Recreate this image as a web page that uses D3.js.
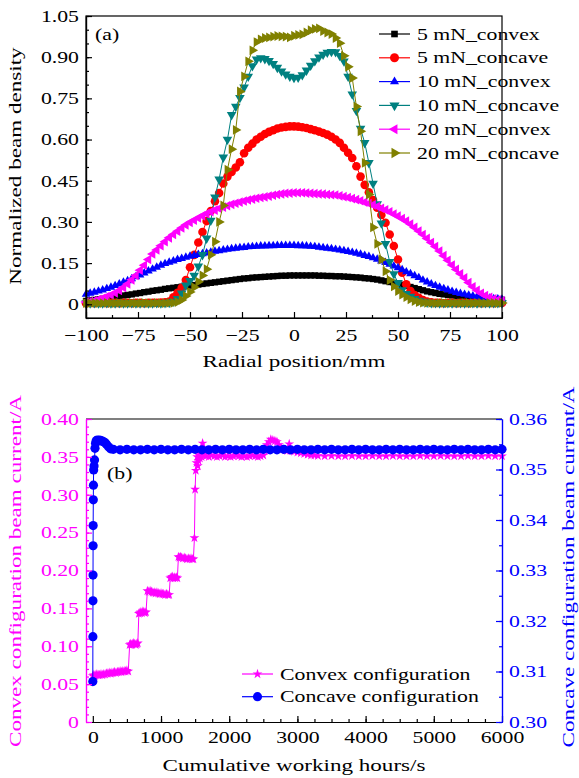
<!DOCTYPE html>
<html>
<head>
<meta charset="utf-8">
<script src="https://cdnjs.cloudflare.com/ajax/libs/d3/7.8.5/d3.min.js"></script>
<style>
  body { margin: 0; background: #fff; }
  svg text { font-family: "Liberation Serif", "Times New Roman", serif; }
</style>
</head>
<body>
<svg id="chart" width="579" height="778"></svg>
<script>
// ---------- panel (a) data : radial profiles, 2 mm grid ----------
const radialPos = d3.range(-100, 101, 2);
const seriesNames = ["5 mN_convex", "5 mN_concave", "10 mN_convex", "10 mN_concave", "20 mN_convex", "20 mN_concave"];

const convex5 = [
  .012,.014,.016,.018,.020,.022,.024,.027,.029,.032,
  .034,.036,.039,.041,.044,.046,.049,.051,.053,.056,
  .058,.060,.062,.064,.066,.068,.070,.072,.074,.076,
  .078,.080,.082,.084,.086,.088,.090,.092,.094,.095,
  .097,.098,.099,.100,.101,.102,.103,.104,.104,.105,
  .105,.105,.105,.105,.105,.105,.104,.104,.103,.103,
  .102,.102,.101,.100,.099,.098,.097,.095,.094,.092,
  .090,.087,.084,.081,.078,.075,.071,.067,.063,.059,
  .055,.051,.047,.044,.041,.038,.036,.034,.032,.030,
  .028,.026,.024,.022,.021,.020,.019,.018,.017,.016,.016];
const concave5 = [
  .004,.005,.004,.005,.005,.004,.005,.005,.004,.005,
  .005,.004,.005,.005,.004,.005,.005,.005,.006,.007,
  .010,.025,.042,.060,.088,.135,.180,.225,.263,.303,
  .340,.375,.405,.440,.465,.482,.498,.517,.550,.570,
  .585,.600,.610,.620,.628,.634,.640,.644,.646,.648,
  .648,.647,.645,.642,.638,.634,.629,.624,.618,.610,
  .600,.588,.570,.552,.533,.503,.465,.435,.408,.380,
  .352,.325,.297,.254,.212,.163,.115,.073,.048,.034,
  .024,.015,.010,.007,.005,.005,.004,.005,.005,.004,
  .005,.005,.004,.005,.005,.004,.005,.005,.004,.005,.005];
const convex10 = [
  .036,.040,.044,.048,.052,.057,.062,.068,.074,.080,
  .086,.093,.100,.107,.114,.121,.128,.135,.142,.148,
  .153,.158,.163,.167,.171,.175,.178,.181,.184,.187,
  .190,.193,.195,.198,.200,.202,.204,.206,.207,.209,
  .210,.211,.212,.212,.213,.213,.214,.214,.214,.214,
  .214,.213,.213,.212,.211,.210,.208,.206,.204,.202,
  .200,.198,.195,.192,.189,.186,.182,.178,.174,.169,
  .164,.158,.152,.146,.139,.133,.126,.118,.111,.104,
  .097,.088,.081,.074,.068,.062,.057,.052,.047,.043,
  .039,.036,.033,.030,.028,.026,.024,.022,.020,.019,.018];
const concave10 = [
  .004,.004,.005,.004,.004,.005,.004,.004,.005,.004,
  .004,.005,.004,.004,.005,.004,.004,.005,.004,.005,.006,
  .010,.020,.040,.069,.086,.105,.138,.180,.240,.305,
  .390,.455,.535,.600,.690,.720,.752,.790,.830,.868,
  .892,.897,.894,.887,.876,.862,.849,.838,.830,.825,
  .826,.835,.852,.870,.886,.900,.910,.917,.920,.919,
  .905,.885,.830,.765,.705,.640,.588,.515,.440,.365,
  .295,.220,.155,.110,.078,.052,.038,.028,.020,.014,
  .010,.007,.005,.005,.004,.005,.005,.004,.005,.005,
  .004,.005,.005,.004,.005,.005,.004,.005,.005,.005];
const convex20 = [
  .008,.010,.013,.017,.022,.028,.034,.041,.050,.061,
  .074,.089,.105,.124,.142,.163,.183,.198,.213,.228,
  .242,.254,.266,.278,.289,.298,.306,.314,.322,.330,
  .337,.343,.349,.354,.359,.364,.368,.372,.376,.380,
  .383,.386,.389,.391,.394,.397,.400,.402,.404,.405,
  .406,.406,.406,.405,.404,.403,.402,.401,.400,.399,
  .398,.395,.392,.389,.385,.381,.377,.372,.367,.362,
  .356,.350,.344,.337,.329,.321,.312,.303,.292,.280,
  .267,.254,.240,.225,.210,.194,.177,.160,.143,.127,
  .111,.096,.079,.064,.051,.040,.032,.025,.020,.016,.013];
const concave20 = [
  .004,.004,.005,.004,.004,.005,.004,.004,.005,.004,.004,
  .005,.004,.004,.005,.004,.004,.005,.004,.004,.005,.005,
  .008,.016,.030,.045,.062,.082,.105,.128,.180,.228,
  .300,.360,.490,.565,.635,.775,.830,.885,.925,.955,
  .965,.970,.972,.975,.977,.976,.975,.972,.978,.981,
  .983,.990,.998,1.003,1.005,.995,.990,.984,.970,.951,
  .905,.865,.824,.720,.630,.515,.400,.280,.220,.163,
  .120,.088,.065,.048,.035,.026,.018,.012,.008,.006,
  .005,.005,.004,.005,.005,.004,.005,.005,.004,.005,
  .005,.004,.005,.005,.004,.005,.005,.004,.005];
const radialSeries = [convex5, concave5, convex10, concave10, convex20, concave20];
const radialTicksX = [-100, -75, -50, -25, 0, 25, 50, 75, 100];
const radialTicksY = [0, 0.15, 0.30, 0.45, 0.60, 0.75, 0.90, 1.05];

// ---------- panel (b) data : beam current vs time ----------
const convexTime = [
  0,15,30,45,60,80,100,120,140,160,180,200,220,240,260,280,300,320,340,360,380,400,420,440,460,480,500,520,
  540,555,570,585,600,615,630,645,660,
  675,690,705,720,735,750,765,780,
  800,820,840,860,880,900,920,940,960,980,1000,1020,1040,1060,1080,1100,1120,
  1135,1150,1165,1180,1195,1210,1225,1240,
  1255,1270,1285,1300,1320,1340,1360,1380,1400,1420,1440,1460,1475,
  1490,1500,1510,1520,1530,1540,1550,1560,1570,1580,1595,1610,1625,1640,
  1660,1700,1740,1780,1820,1860,1900,1940,1980,2020,2060,2100,2140,2180,2220,2260,2300,2340,2380,2420,2460,2500,
  2520,2550,2580,2610,2640,2670,2700,2730,2760,2790,2820,2850,2880,2900,2950,3000,3050,3100,3150,3200,3250,
  3300,3400,3500,3600,3700,3800,3900,4000,4100,4200,4300,4400,4500,4600,4700,4800,4900,5000,5100,5200,5300,5400,5500,5600,5700,5800,5900,6000];
const convexCurrent = [
  .061,.062,.061,.062,.063,.062,.062,.063,.062,.063,.063,.064,.064,.065,.064,.065,.065,.066,.065,.066,.066,.067,.066,.067,.067,.067,.068,.067,
  .102,.103,.102,.103,.104,.103,.102,.103,.104,
  .143,.144,.145,.144,.146,.145,.144,.145,
  .173,.172,.173,.172,.171,.171,.170,.171,.170,.169,.170,.169,.169,.168,.169,.168,.168,
  .190,.191,.192,.190,.191,.190,.191,.190,
  .218,.217,.218,.217,.216,.217,.216,.215,.216,.215,.216,.215,.215,
  .243,.307,.332,.342,.350,.338,.345,.352,.348,.355,.350,.368,.352,.355,
  .351,.350,.352,.351,.350,.351,.352,.350,.351,.350,.351,.352,.351,.350,.351,.350,.351,.352,.351,.350,.351,.352,
  .358,.366,.370,.373,.372,.371,.370,.366,.362,.360,.359,.358,.367,.358,.357,.356,.355,.354,.353,.352,.352,
  .3515,.351,.3515,.351,.351,.3515,.351,.351,.3515,.351,.351,.3515,.351,.351,.351,.3515,.351,.351,.3515,.351,.351,.351,.3515,.351,.351,.3515,.351,.351];
const concaveTime = [0,1,2,3,4,5,7,9,12,18,25,32,40,50,65,80,100,120,140,160,180,200,230,260]
  .concat(d3.range(300, 6001, 100));
const concaveCurrent = [
  .3080,.3169,.3240,.3291,.3349,.3389,.3440,.3469,.3499,.3507,.3519,.3542,.3552,
  .3557,.3558,.3557,.3558,.3557,.3556,.3555,.3553,.3550,.3545,.3541,
  .3540,.3539,.3540,.3539,.3539,.3540,.3539,.3540,.3539,.3539,.3540,.3539,.3540,.3539,.3539,.3540,
  .3539,.3540,.3539,.3539,.3540,.3539,.3540,.3539,.3539,.3540,.3539,.3540,.3539,.3539,.3540,.3539,
  .3540,.3539,.3539,.3540,.3539,.3540,.3539,.3539,.3540,.3539,.3540,.3539,.3539,.3540,.3539,.3540,
  .3539,.3539,.3540,.3539,.3540,.3539,.3539,.3540,.3539,.3540];
const timeTicks = [0, 1000, 2000, 3000, 4000, 5000, 6000];
const convexTicks = [0, 0.05, 0.10, 0.15, 0.20, 0.25, 0.30, 0.35, 0.40];
const concaveTicks = [0.30, 0.31, 0.32, 0.33, 0.34, 0.35, 0.36];

// ---------- drawing ----------
const svg = d3.select("#chart");
const STRETCH = 1.32; // the serif glyphs in the reference are wider than Liberation Serif
const colors = ["#000000", "#ff0000", "#0000ff", "#008080", "#ff00ff", "#808000"];
const markers = [
  { type: d3.symbolSquare, size: 40, rot: 0 },
  { type: d3.symbolCircle, size: 58, rot: 0 },
  { type: d3.symbolTriangle, size: 32, rot: 0 },
  { type: d3.symbolTriangle, size: 40, rot: 180 },
  { type: d3.symbolTriangle, size: 40, rot: -90 },
  { type: d3.symbolTriangle, size: 42, rot: 90 }
];

function label(x, y, txt, opt) {
  opt = opt || {};
  const g = svg.append("g").attr("transform", `translate(${x},${y}) rotate(${opt.rotate || 0})`);
  g.append("text")
    .attr("transform", `scale(${STRETCH},1)`)
    .attr("text-anchor", opt.anchor || "start")
    .attr("dominant-baseline", opt.baseline || "auto")
    .attr("font-size", opt.size || 16.5)
    .attr("fill", opt.fill || "#000")
    .text(txt);
}

function styleAxis(g, color) {
  g.selectAll("path,line").attr("stroke", color).attr("stroke-width", 1.2);
  g.selectAll("text")
    .attr("font-size", 16.5)
    .attr("fill", color)
    .attr("font-family", "Liberation Serif, serif")
    .attr("transform", `scale(${STRETCH},1)`);
}

const fmt2 = d => d === 0 ? "0" : d3.format(".2f")(d);

// ---- panel (a)
const xa = d3.scaleLinear().domain([-100, 100]).range([86, 502]);
const ya = d3.scaleLinear().domain([-0.05, 1.05]).range([318, 16]);

const lineA = d3.line().x((d, i) => xa(radialPos[i])).y(d => ya(d));
radialSeries.forEach((vals, k) => {
  const g = svg.append("g");
  g.append("path").attr("d", lineA(vals)).attr("fill", "none")
    .attr("stroke", colors[k]).attr("stroke-width", 1);
  const sym = d3.symbol(markers[k].type, markers[k].size)();
  g.selectAll("path.m").data(vals).join("path").attr("class", "m")
    .attr("d", sym).attr("fill", colors[k])
    .attr("transform", (d, i) => `translate(${xa(radialPos[i])},${ya(d)}) rotate(${markers[k].rot})`);
});

// axes (ticks inward)
const axBot = svg.append("g").attr("transform", "translate(0,318)")
  .call(d3.axisBottom(xa).tickValues(radialTicksX).tickSize(-6).tickSizeOuter(0).tickPadding(11)
    .tickFormat(d => d < 0 ? "\u2212" + Math.abs(d) : d));
styleAxis(axBot, "#000");
svg.append("g").attr("transform", "translate(0,318)")
  .call(d3.axisBottom(xa).tickValues(d3.range(-87.5, 100, 25)).tickSize(-3).tickSizeOuter(0).tickFormat(""))
  .call(g => styleAxis(g, "#000"));
const axLeft = svg.append("g").attr("transform", "translate(86,0)")
  .call(d3.axisLeft(ya).tickValues(radialTicksY).tickSize(-6).tickSizeOuter(0).tickPadding(5.3).tickFormat(fmt2));
styleAxis(axLeft, "#000");
svg.append("g").attr("transform", "translate(86,0)")
  .call(d3.axisLeft(ya).tickValues(d3.range(-1, 22).map(k => k * 0.05)).tickSize(-3).tickSizeOuter(0).tickFormat(""))
  .call(g => styleAxis(g, "#000"));
svg.append("rect").attr("x", 86).attr("y", 16).attr("width", 416).attr("height", 302)
  .attr("fill", "none").attr("stroke", "#000").attr("stroke-width", 1.2);

label(95, 40, "(a)");
label(15, 166, "Normalized beam density", { rotate: -90, anchor: "middle", baseline: "central", size: 17.5 });
label(294, 367, "Radial position/mm", { anchor: "middle", size: 17.5 });

// legend (a)
seriesNames.forEach((name, k) => {
  const cy = 34 + k * 23.8;
  svg.append("line").attr("x1", 379).attr("x2", 410).attr("y1", cy).attr("y2", cy)
    .attr("stroke", colors[k]).attr("stroke-width", 1.2);
  svg.append("path").attr("d", d3.symbol(markers[k].type, markers[k].size * 1.1)())
    .attr("fill", colors[k])
    .attr("transform", `translate(394.5,${cy}) rotate(${markers[k].rot})`);
  label(417, cy + 5.5, name);
});

// ---- panel (b)
const xb = d3.scaleLinear().domain([-100, 6000]).range([86, 502]);
const yl = d3.scaleLinear().domain([0, 0.40]).range([722, 419]);
const yr = d3.scaleLinear().domain([0.30, 0.36]).range([722, 419]);

const convexPts = convexTime.map((t, i) => [t, convexCurrent[i]]);
const concavePts = concaveTime.map((t, i) => [t, concaveCurrent[i]]);

const gConvex = svg.append("g");
gConvex.append("path")
  .attr("d", d3.line().x(d => xb(d[0])).y(d => yl(d[1]))(convexPts))
  .attr("fill", "none").attr("stroke", "#ff00ff").attr("stroke-width", 1);
const star = d3.symbol(d3.symbolStar, 30)();
gConvex.selectAll("path.m").data(convexPts).join("path").attr("class", "m")
  .attr("d", star).attr("fill", "#ff00ff")
  .attr("transform", d => `translate(${xb(d[0])},${yl(d[1])})`);

const gConcave = svg.append("g");
gConcave.append("path")
  .attr("d", d3.line().x(d => xb(d[0])).y(d => yr(d[1]))(concavePts))
  .attr("fill", "none").attr("stroke", "#0000ff").attr("stroke-width", 1);
gConcave.selectAll("circle").data(concavePts).join("circle")
  .attr("cx", d => xb(d[0])).attr("cy", d => yr(d[1])).attr("r", 4.6).attr("fill", "#0000ff");

const axBotB = svg.append("g").attr("transform", "translate(0,722)")
  .call(d3.axisBottom(xb).tickValues(timeTicks).tickSize(-6).tickSizeOuter(0).tickPadding(9.5)
    .tickFormat(d3.format("d")));
styleAxis(axBotB, "#000");
svg.append("g").attr("transform", "translate(0,722)")
  .call(d3.axisBottom(xb).tickValues(d3.range(250, 6000, 250)).tickSize(-3).tickSizeOuter(0).tickFormat(""))
  .call(g => styleAxis(g, "#000"));
svg.append("line").attr("x1", 86).attr("x2", 502).attr("y1", 419).attr("y2", 419)
  .attr("stroke", "#000").attr("stroke-width", 1.2);

const axLeftB = svg.append("g").attr("transform", "translate(86,0)")
  .call(d3.axisLeft(yl).tickValues(convexTicks).tickSize(-6).tickSizeOuter(0).tickPadding(5.3).tickFormat(fmt2));
styleAxis(axLeftB, "#ff00ff");
svg.append("g").attr("transform", "translate(86,0)")
  .call(d3.axisLeft(yl).tickValues(d3.range(0, 41).map(k => k * 0.01)).tickSize(-3).tickSizeOuter(0).tickFormat(""))
  .call(g => styleAxis(g, "#ff00ff"));

const axRightB = svg.append("g").attr("transform", "translate(502,0)")
  .call(d3.axisRight(yr).tickValues(concaveTicks).tickSize(-6).tickSizeOuter(0).tickPadding(5.3).tickFormat(d3.format(".2f")));
styleAxis(axRightB, "#0000ff");
svg.append("g").attr("transform", "translate(502,0)")
  .call(d3.axisRight(yr).tickValues(d3.range(0, 13).map(k => 0.30 + k * 0.005)).tickSize(-3).tickSizeOuter(0).tickFormat(""))
  .call(g => styleAxis(g, "#0000ff"));

label(107, 479, "(b)");
label(15, 571, "Convex configuration beam current/A", { rotate: -90, anchor: "middle", baseline: "central", size: 17.5, fill: "#ff00ff" });
label(568, 567, "Concave configuration beam current/A", { rotate: -90, anchor: "middle", baseline: "central", size: 17.5, fill: "#0000ff" });
label(294, 771, "Cumulative working hours/s", { anchor: "middle", size: 17.5 });

// legend (b)
[["Convex configuration", "#ff00ff", star], ["Concave configuration", "#0000ff", d3.symbol(d3.symbolCircle, 66)()]]
  .forEach(([name, col, sym], k) => {
    const cy = 674 + k * 22.7;
    svg.append("line").attr("x1", 242).attr("x2", 273).attr("y1", cy).attr("y2", cy)
      .attr("stroke", col).attr("stroke-width", 1.2);
    svg.append("path").attr("d", sym).attr("fill", col).attr("transform", `translate(257.5,${cy})`);
    label(280, cy + 5.5, name);
  });
</script>
</body>
</html>
